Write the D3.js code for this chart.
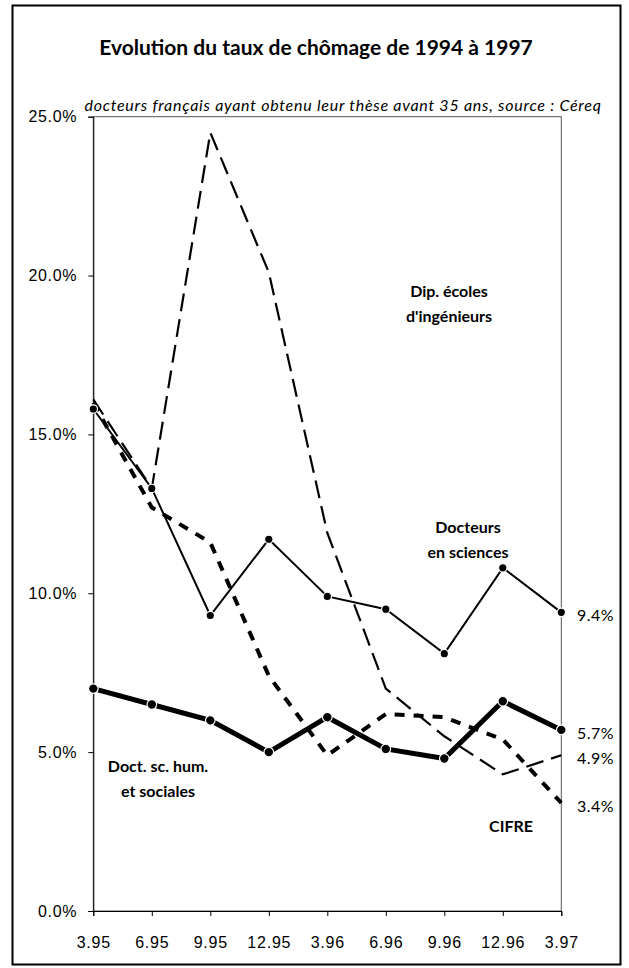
<!DOCTYPE html>
<html>
<head>
<meta charset="utf-8">
<script src="https://cdn.jsdelivr.net/npm/d3@7"></script>
<style>
  body { margin: 0; background: #fff; }
  svg { display: block; font-family: Lato, "Open Sans", sans-serif; }
</style>
</head>
<body>
<div id="chart"></div>
<script>
var width = 629,
    height = 968;

// donnees (taux de chomage en %)
var periodes = ["3.95", "6.95", "9.95", "12.95", "3.96", "6.96", "9.96", "12.96", "3.97"];
var docteursSciences = [15.8, 13.3, 9.3, 11.7, 9.9, 9.5, 8.1, 10.8, 9.4];
var sciencesHumaines = [7.0, 6.5, 6.0, 5.0, 6.1, 5.1, 4.8, 6.6, 5.7];
var ecolesIngenieurs = [16.1, 13.3, 24.5, 20.1, 11.9, 7.0, 5.5, 4.3, 4.9];
var cifre = [16.0, 12.7, 11.6, 7.4, 4.9, 6.2, 6.1, 5.4, 3.4];
var yTicks = [0, 5, 10, 15, 20, 25];

var plot = { left: 93.3, right: 561.3, top: 116.7, bottom: 911 };

var x = d3.scalePoint()
    .domain(periodes)
    .range([plot.left, plot.right]);

var y = d3.scaleLinear()
    .domain([0, 25])
    .range([plot.bottom, plot.top]);

var pct = function(d) { return d3.format(".1f")(d) + "%"; };

var svg = d3.select("#chart").append("svg")
    .attr("width", width)
    .attr("height", height);

// cadre exterieur
svg.append("rect")
    .attr("x", 12.5).attr("y", 5.5)
    .attr("width", 608).attr("height", 959)
    .attr("fill", "none")
    .attr("stroke", "#000")
    .attr("stroke-width", 2);

svg.append("text")
    .attr("x", 316).attr("y", 55)
    .attr("text-anchor", "middle")
    .style("font-size", "21px")
    .style("font-weight", "bold")
    .text("Evolution du taux de chômage de 1994 à 1997");

svg.append("text")
    .attr("x", 343).attr("y", 111)
    .attr("text-anchor", "middle")
    .style("font-size", "16px")
    .style("letter-spacing", "0.75px")
    .style("font-style", "italic")
    .text("docteurs français ayant obtenu leur thèse avant 35 ans, source : Céreq");

// zone de trace
svg.append("rect")
    .attr("x", plot.left).attr("y", plot.top)
    .attr("width", plot.right - plot.left)
    .attr("height", plot.bottom - plot.top)
    .attr("fill", "none")
    .attr("stroke", "#555")
    .attr("stroke-width", 1);

svg.append("g")
    .attr("transform", "translate(" + plot.left + ",0)")
    .call(d3.axisLeft(y).tickValues(yTicks).tickFormat(pct).tickSize(5).tickPadding(11))
    .call(function(g) {
      g.selectAll("text").style("font-size", "16px").style("letter-spacing", "0.7px").attr("fill", "#000");
      g.selectAll("line, path").attr("stroke", "#000");
    });

svg.append("g")
    .attr("transform", "translate(0," + plot.bottom + ")")
    .call(d3.axisBottom(x).tickSize(5).tickPadding(21))
    .call(function(g) {
      g.selectAll("text").style("font-size", "16px").style("letter-spacing", "0.8px").attr("fill", "#000");
      g.selectAll("line, path").attr("stroke", "#000");
    });

var line = d3.line()
    .x(function(d, i) { return x(periodes[i]); })
    .y(function(d) { return y(d); });

var series = [
  { name: "ingenieurs", values: ecolesIngenieurs, width: 2.2, dash: "18,8", dots: false },
  { name: "cifre", values: cifre, width: 4, dash: "10,9", dots: false },
  { name: "sciences", values: docteursSciences, width: 2, dash: null, dots: true, r: 4.2 },
  { name: "humaines", values: sciencesHumaines, width: 5, dash: null, dots: true, r: 4.8 }
];

series.forEach(function(s) {
  svg.append("path")
      .datum(s.values)
      .attr("class", s.name)
      .attr("d", line)
      .attr("fill", "none")
      .attr("stroke", "#000")
      .attr("stroke-width", s.width)
      .attr("stroke-dasharray", s.dash);
});

series.filter(function(s) { return s.dots; }).forEach(function(s) {
  svg.append("g").selectAll("circle")
      .data(s.values)
    .enter().append("circle")
      .attr("cx", function(d, i) { return x(periodes[i]); })
      .attr("cy", function(d) { return y(d); })
      .attr("r", s.r)
      .attr("fill", "#000")
      .attr("stroke", "#fff")
      .attr("stroke-width", 1.2);
});

// valeurs finales a droite
var finales = [docteursSciences, sciencesHumaines, ecolesIngenieurs, cifre];
svg.append("g").selectAll("text")
    .data(finales)
  .enter().append("text")
    .attr("x", 577)
    .attr("y", function(d) { return y(d[d.length - 1]) + 9; })
    .style("font-size", "16px")
    .style("letter-spacing", "0.5px")
    .text(function(d) { return pct(d[d.length - 1]); });

// etiquettes des series
var etiquettes = [
  { lines: ["Dip. écoles", "d'ingénieurs"], x: 449, y: 297 },
  { lines: ["Docteurs", "en sciences"], x: 468, y: 533 },
  { lines: ["Doct. sc. hum.", "et sociales"], x: 158, y: 772 },
  { lines: ["CIFRE"], x: 511, y: 832 }
];

etiquettes.forEach(function(e) {
  var t = svg.append("text")
      .attr("text-anchor", "middle")
      .style("font-size", "16px")
      .style("font-weight", "bold");
  e.lines.forEach(function(l, i) {
    t.append("tspan")
        .attr("x", e.x)
        .attr("y", e.y + i * 25)
        .text(l);
  });
});
</script>
</body>
</html>
